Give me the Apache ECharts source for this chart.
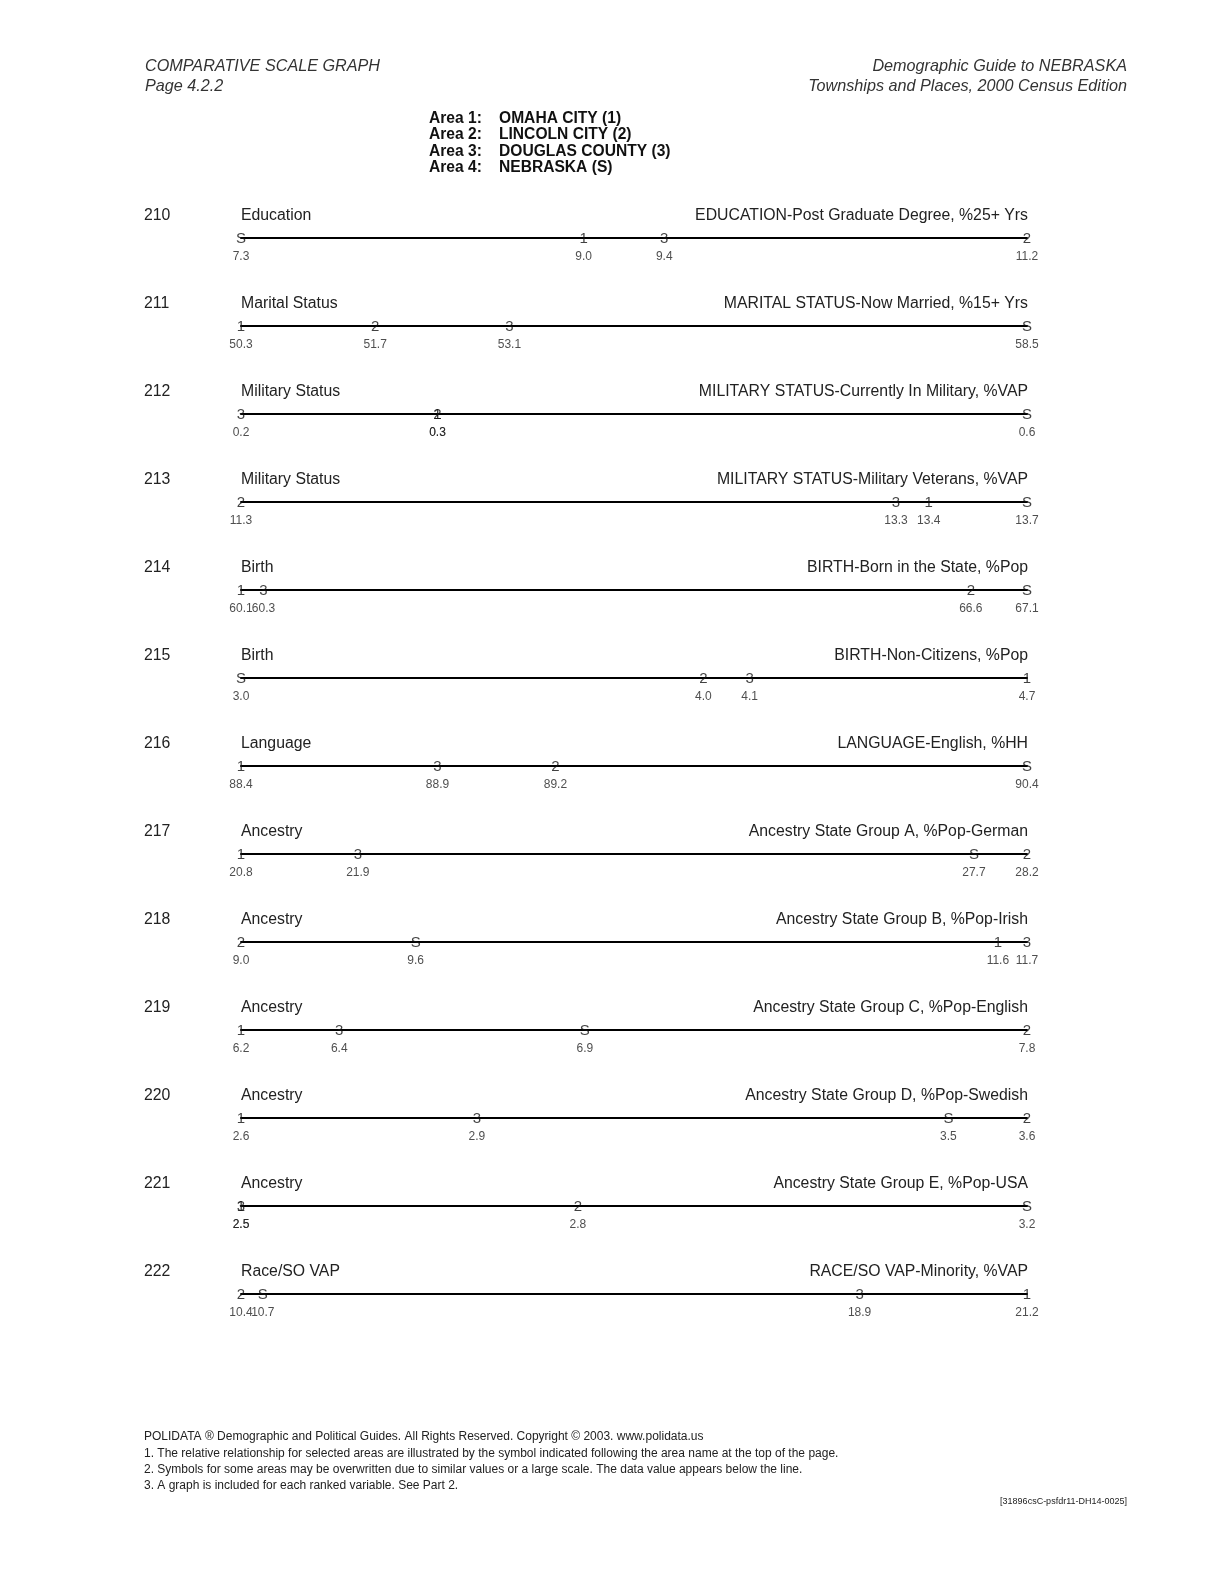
<!DOCTYPE html>
<html>
<head>
<meta charset="utf-8">
<script src="https://cdn.jsdelivr.net/npm/echarts@6/dist/echarts.min.js"></script>
<style>
  html, body { margin: 0; padding: 0; background: #fff; }
  #chart { width: 1224px; height: 1583px; }
</style>
</head>
<body>
<div id="chart"></div>
<script>
const rowIds = ['210', '211', '212', '213', '214', '215', '216', '217', '218', '219', '220', '221', '222']
const topics = ['Education', 'Marital Status', 'Military Status', 'Military Status', 'Birth', 'Birth',
  'Language', 'Ancestry', 'Ancestry', 'Ancestry', 'Ancestry', 'Ancestry', 'Race/SO VAP']
const variables = [
  'EDUCATION-Post Graduate Degree, %25+ Yrs',
  'MARITAL STATUS-Now Married, %15+ Yrs',
  'MILITARY STATUS-Currently In Military, %VAP',
  'MILITARY STATUS-Military Veterans, %VAP',
  'BIRTH-Born in the State, %Pop',
  'BIRTH-Non-Citizens, %Pop',
  'LANGUAGE-English, %HH',
  'Ancestry State Group A, %Pop-German',
  'Ancestry State Group B, %Pop-Irish',
  'Ancestry State Group C, %Pop-English',
  'Ancestry State Group D, %Pop-Swedish',
  'Ancestry State Group E, %Pop-USA',
  'RACE/SO VAP-Minority, %VAP'
]
const areaLabels = ['Area 1:', 'Area 2:', 'Area 3:', 'Area 4:']
const areaNames = ['OMAHA CITY (1)', 'LINCOLN CITY (2)', 'DOUGLAS COUNTY (3)', 'NEBRASKA (S)']
const areaSymbols = ['1', '2', '3', 'S']

// one value per row, in the row order above
const area1 = [9.0, 50.3, 0.3, 13.4, 60.1, 4.7, 88.4, 20.8, 11.6, 6.2, 2.6, 2.5, 21.2]
const area2 = [11.2, 51.7, 0.3, 11.3, 66.6, 4.0, 89.2, 28.2, 9.0, 7.8, 3.6, 2.8, 10.4]
const area3 = [9.4, 53.1, 0.2, 13.3, 60.3, 4.1, 88.9, 21.9, 11.7, 6.4, 2.9, 2.5, 18.9]
const areaS = [7.3, 58.5, 0.6, 13.7, 67.1, 3.0, 90.4, 27.7, 9.6, 6.9, 3.5, 3.2, 10.7]

const footerLines = [
  'POLIDATA \u00AE Demographic and Political Guides. All Rights Reserved. Copyright \u00A9 2003. www.polidata.us',
  '1. The relative relationship for selected areas are illustrated by the symbol indicated following the area name at the top of the page.',
  '2. Symbols for some areas may be overwritten due to similar values or a large scale. The data value appears below the line.',
  '3. A graph is included for each ranked variable. See Part 2.'
]

const FONT = '"Liberation Sans", Arial, Helvetica, sans-serif'
const INK = '#222'
const firstLine = 238
const rowGap = 88
const lineLeft = 241
const lineRight = 1027

const chart = echarts.init(document.getElementById('chart'))

const grids = []
const xAxes = []
const yAxes = []
const series = []
const graphics = []

const txt = (x, y, text, style) => ({
  type: 'text', x, y, silent: true,
  style: Object.assign({ text, fill: INK, font: '15.8px ' + FONT, textVerticalAlign: 'middle' }, style)
})

rowIds.forEach((id, i) => {
  const lineY = firstLine + rowGap * i
  const vals = [area1[i], area2[i], area3[i], areaS[i]]
  const points = vals.map((v, k) => [v, 0, areaSymbols[k]])

  grids.push({ left: lineLeft, width: lineRight - lineLeft, top: lineY - 20, height: 20 })
  xAxes.push({
    gridIndex: i, type: 'value',
    min: Math.min(...vals), max: Math.max(...vals),
    axisLine: { show: true, onZero: false, lineStyle: { color: '#000', width: 2 } },
    axisTick: { show: false }, axisLabel: { show: false }, splitLine: { show: false }
  })
  yAxes.push({ gridIndex: i, type: 'value', min: 0, max: 1, show: false })

  // area symbol drawn on the line, later areas overwrite earlier ones
  series.push({
    type: 'scatter', xAxisIndex: i, yAxisIndex: i, clip: false, silent: true,
    symbolSize: 1, itemStyle: { color: 'transparent' },
    data: points,
    label: {
      show: true, position: 'inside', offset: [0, 1],
      formatter: p => p.value[2],
      color: '#111', fontFamily: FONT, fontSize: 15
    }
  })
  // value printed below the line
  series.push({
    type: 'scatter', xAxisIndex: i, yAxisIndex: i, clip: false, silent: true,
    symbolSize: 1, itemStyle: { color: 'transparent' },
    data: points,
    label: {
      show: true, position: 'inside', offset: [0, 18.5],
      formatter: p => p.value[0].toFixed(1),
      color: INK, fontFamily: FONT, fontSize: 12
    }
  })

  graphics.push(txt(144, lineY - 22, id))
  graphics.push(txt(lineLeft, lineY - 22, topics[i]))
  graphics.push(txt(lineRight + 1, lineY - 22, variables[i], { textAlign: 'right' }))
})

// page header
const headFont = 'italic 16.2px ' + FONT
graphics.push(txt(145, 66, 'COMPARATIVE SCALE GRAPH', { font: headFont, fill: '#333' }))
graphics.push(txt(145, 86, 'Page 4.2.2', { font: headFont, fill: '#333' }))
graphics.push(txt(1127, 66, 'Demographic Guide to NEBRASKA', { font: headFont, fill: '#333', textAlign: 'right' }))
graphics.push(txt(1127, 86, 'Townships and Places, 2000 Census Edition', { font: headFont, fill: '#333', textAlign: 'right' }))

// area legend
areaLabels.forEach((a, k) => {
  graphics.push(txt(429, 119 + 16.1 * k, a, { font: 'bold 15.6px ' + FONT, fill: '#111' }))
  graphics.push(txt(499, 119 + 16.1 * k, areaNames[k], { font: 'bold 15.6px ' + FONT, fill: '#111' }))
})

// footnotes
footerLines.forEach((t, k) => {
  graphics.push(txt(144, 1437 + 16.3 * k, t, { font: '12px ' + FONT, fill: '#222' }))
})
graphics.push(txt(1127, 1502, '[31896csC-psfdr11-DH14-0025]', { font: '9px ' + FONT, fill: '#222', textAlign: 'right' }))

chart.setOption({
  animation: false,
  backgroundColor: '#fff',
  grid: grids,
  xAxis: xAxes,
  yAxis: yAxes,
  series: series,
  graphic: graphics
})
</script>
</body>
</html>
